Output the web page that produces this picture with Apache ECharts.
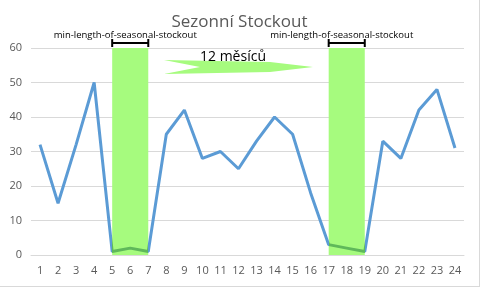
<!DOCTYPE html>
<html><head><meta charset="utf-8">
<script src="https://cdn.jsdelivr.net/npm/echarts@6/dist/echarts.min.js"></script>
<style>html,body{margin:0;padding:0;background:#fff;}#c{width:479px;height:286px;border-right:1px solid #d9d9d9;border-bottom:1px solid #d9d9d9;}</style>
</head><body><div id="c"></div>
<script>
const categories = ['1','2','3','4','5','6','7','8','9','10','11','12','13','14','15','16','17','18','19','20','21','22','23','24'];
const stockValues = [32,15,32,50,1,2,1,35,42,28,30,25,33,40,35,18,3,2,1,33,28,42,48,31];
const seasonalBands = [['5','7'],['17','19']];
const bandTop = 60;
const titleText = 'Sezonní Stockout';
const bandLabel = 'min-length-of-seasonal-stockout';
const arrowLabel = '12 měsíců';

const chart = echarts.init(document.getElementById('c'));
const FONT = '"Open Sans", "Liberation Sans", sans-serif';
chart.setOption({
  animation:false,
  title:{text:titleText,left:'center',top:9,textStyle:{color:'#595959',fontSize:17,fontWeight:'normal',fontFamily:FONT}},
  grid:{left:31,right:15,top:48,bottom:31},
  xAxis:{type:'category',data:categories,boundaryGap:true,
    axisLine:{lineStyle:{color:'#d9d9d9'}},axisTick:{show:false},
    axisLabel:{color:'#595959',fontSize:11,fontFamily:FONT,margin:10,interval:0}},
  yAxis:{type:'value',min:0,max:60,interval:10,
    axisLine:{show:false},axisTick:{show:false},
    splitLine:{lineStyle:{color:'#d9d9d9'}},
    axisLabel:{color:'#595959',fontSize:11,fontFamily:FONT,margin:9}},
  visualMap:{show:false,dimension:0,seriesIndex:0,pieces:[
    {lt:4,color:'#5b9bd5'},{gte:4,lte:6,color:'#5fb85a'},{gt:6,lt:16,color:'#5b9bd5'},
    {gte:16,lte:18,color:'#5fb85a'},{gt:18,color:'#5b9bd5'}]},
  series:[{type:'line',data:stockValues,symbol:'none',z:3,
    lineStyle:{width:3},
    markArea:{silent:true,itemStyle:{color:'#a6fb7e',opacity:1},
      data:seasonalBands.map(b=>[{xAxis:b[0],yAxis:0},{xAxis:b[1],yAxis:bandTop}])}
  }]
});

function drawAnnotations(){
  const els=[];
  seasonalBands.forEach(b=>{
    const p1=chart.convertToPixel({gridIndex:0},[b[0],bandTop]);
    const p2=chart.convertToPixel({gridIndex:0},[b[1],bandTop]);
    const y=p1[1]-5;
    els.push({type:'line',shape:{x1:p1[0],y1:y,x2:p2[0],y2:y},style:{stroke:'#000',lineWidth:2}});
    els.push({type:'line',shape:{x1:p1[0],y1:y-4,x2:p1[0],y2:y+4},style:{stroke:'#000',lineWidth:2}});
    els.push({type:'line',shape:{x1:p2[0],y1:y-4,x2:p2[0],y2:y+4},style:{stroke:'#000',lineWidth:2}});
    els.push({type:'text',x:(p1[0]+p2[0])/2-5,y:y-8,style:{text:bandLabel,fill:'#000',font:'9.5px '+FONT,align:'center',verticalAlign:'middle'}});
  });
  els.push({type:'polygon',shape:{points:[[164,60],[270,62],[313,67],[270,72],[164,74],[200,67]]},style:{fill:'#a6fb7e'}});
  els.push({type:'text',x:233,y:57,style:{text:arrowLabel,fill:'#000',font:'14px '+FONT,align:'center',verticalAlign:'middle'}});
  chart.setOption({graphic:els});
}
drawAnnotations();
</script></body></html>
